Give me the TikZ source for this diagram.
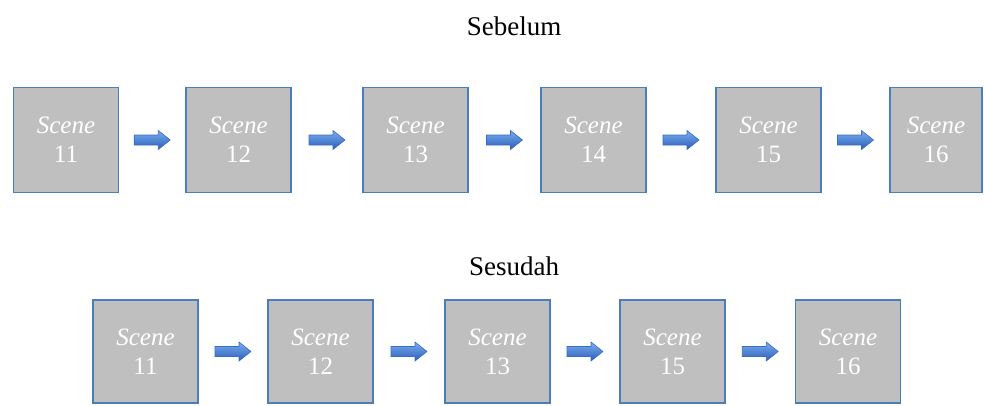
\documentclass[tikz,border=0pt]{standalone}
\usepackage{fontspec}
\setmainfont{Liberation Serif}
\usetikzlibrary{calc}
\definecolor{boxgray}{HTML}{BFBFBF}
\definecolor{boxedge}{HTML}{4A7EBB}
\definecolor{arrtop}{HTML}{7AAEF0}
\definecolor{arrbot}{HTML}{2A5DB8}
\definecolor{arredge}{HTML}{3A6CC0}
\tikzset{
  scenebox/.style={draw=boxedge, line width=1.4pt, fill=boxgray, minimum width=105pt,
    minimum height=105pt, inner sep=0pt, align=center, text=white,
    font=\fontsize{25}{29}\selectfont},
  title/.style={anchor=base, font=\fontsize{27}{30}\selectfont, text=black},
  blockarrow/.pic={
    \shade[top color=arrtop, bottom color=arrbot, draw=arredge, line width=0.6pt]
      (-18,5) -- (6,5) -- (6,9.5) -- (18,0) -- (6,-9.5) -- (6,-5) -- (-18,-5) -- cycle;
  }
}
\begin{document}
\begin{tikzpicture}[x=1pt, y=-1pt]
  \useasboundingbox (0,0) rectangle (985,405);

  % upper row
  \node[title] (before) at (514,35) {Sebelum};
  \node[scenebox] (t1) at (66,140) {\textit{Scene}\\11};
  \node[scenebox] (t2) at (238.5,140) {\textit{Scene}\\12};
  \node[scenebox] (t3) at (415.5,140) {\textit{Scene}\\13};
  \node[scenebox] (t4) at (593.5,140) {\textit{Scene}\\14};
  \node[scenebox] (t5) at (768.5,140) {\textit{Scene}\\15};
  \node[scenebox, minimum width=92pt] (t6) at (936,140) {\textit{Scene}\\16};
  \foreach \a/\b in {t1/t2,t2/t3,t3/t4,t4/t5,t5/t6}
    \path ($(\a.east)!0.5!(\b.west)$) pic {blockarrow};

  % lower row
  \node[title] (after) at (514,275) {Sesudah};
  \node[scenebox, minimum height=103pt] (b1) at (145.5,351.5) {\textit{Scene}\\11};
  \node[scenebox, minimum height=103pt] (b2) at (320.5,351.5) {\textit{Scene}\\12};
  \node[scenebox, minimum height=103pt] (b3) at (497.5,351.5) {\textit{Scene}\\13};
  \node[scenebox, minimum height=103pt] (b4) at (672.5,351.5) {\textit{Scene}\\15};
  \node[scenebox, minimum height=103pt] (b5) at (848,351.5) {\textit{Scene}\\16};
  \foreach \a/\b in {b1/b2,b2/b3,b3/b4,b4/b5}
    \path ($(\a.east)!0.5!(\b.west)$) pic {blockarrow};
\end{tikzpicture}
\end{document}
